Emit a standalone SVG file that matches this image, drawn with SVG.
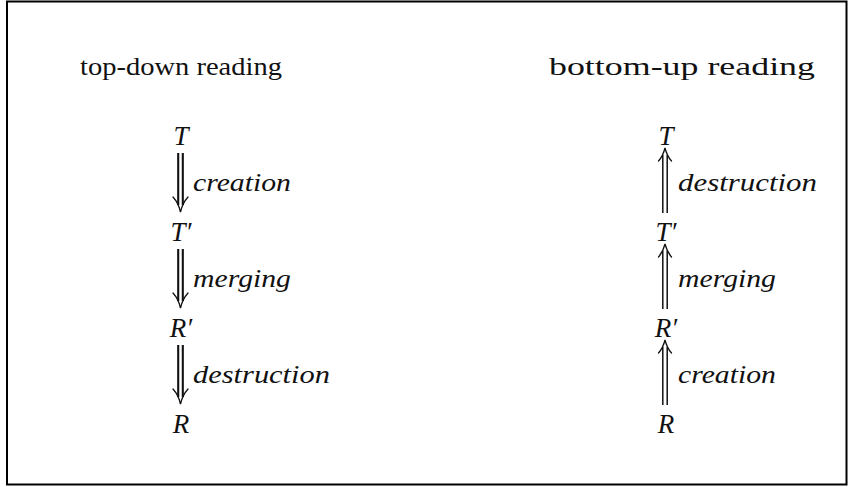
<svg xmlns="http://www.w3.org/2000/svg" xmlns:xlink="http://www.w3.org/1999/xlink" width="848" height="487" viewBox="0 0 848 487">
<style>
.frame{fill:#fff;stroke:#000;stroke-width:2}
.tx{font-family:"Times New Roman","Liberation Serif",Times,serif;fill:#111}
.hd{font-size:26px}
.nd{font-style:italic;font-size:27px;text-anchor:middle}
.lb{font-style:italic;font-size:26px}
.dl{stroke:#111;stroke-width:2.1;fill:none}
.ul{stroke:#111;stroke-width:1.5;fill:none}
.hdw{stroke:#111;stroke-width:1.3;fill:none;stroke-linecap:round}
</style>
<defs>
<g id="down">
<line class="dl" x1="-2.3" y1="0" x2="-2.3" y2="52"/>
<line class="dl" x1="2.3" y1="0" x2="2.3" y2="52"/>
<path class="hdw" d="M-7.5,44 Q-2,50 0,59 Q2,50 7.5,44"/>
</g>
<g id="up">
<line class="ul" x1="-2.2" y1="7" x2="-2.2" y2="65"/>
<line class="ul" x1="2.2" y1="7" x2="2.2" y2="65"/>
<path class="hdw" d="M-6.5,13 Q-2,8 0,0 Q2,8 6.5,13"/>
</g>
</defs>
<rect class="frame" x="7" y="1.5" width="839.5" height="483"/>
<g class="tx">
<g id="headings">
<text class="hd" x="80" y="75" textLength="202" lengthAdjust="spacingAndGlyphs">top-down reading</text>
<text class="hd" x="549" y="75" textLength="266" lengthAdjust="spacingAndGlyphs">bottom-up reading</text>
</g>
<g id="left-T"><text class="nd" x="181" y="145">T</text></g>
<g id="left-T1"><text class="nd" x="181" y="241">T′</text></g>
<g id="left-R1"><text class="nd" x="181" y="337">R′</text></g>
<g id="left-R"><text class="nd" x="181" y="433">R</text></g>
<g id="right-T"><text class="nd" x="666" y="145">T</text></g>
<g id="right-T1"><text class="nd" x="666" y="241">T′</text></g>
<g id="right-R1"><text class="nd" x="666" y="337">R′</text></g>
<g id="right-R"><text class="nd" x="666" y="433">R</text></g>
</g>
<g id="connectors">
<use xlink:href="#down" x="180.5" y="153"/>
<use xlink:href="#down" x="180.5" y="249"/>
<use xlink:href="#down" x="180.5" y="345"/>
<use xlink:href="#up" x="665" y="148"/>
<use xlink:href="#up" x="665" y="244"/>
<use xlink:href="#up" x="665" y="340"/>
<g class="tx">
<text class="lb" x="193" y="191" textLength="98" lengthAdjust="spacingAndGlyphs">creation</text>
<text class="lb" x="193" y="287" textLength="98" lengthAdjust="spacingAndGlyphs">merging</text>
<text class="lb" x="193" y="383" textLength="137" lengthAdjust="spacingAndGlyphs">destruction</text>
<text class="lb" x="678" y="191" textLength="139" lengthAdjust="spacingAndGlyphs">destruction</text>
<text class="lb" x="678" y="287" textLength="98" lengthAdjust="spacingAndGlyphs">merging</text>
<text class="lb" x="678" y="383" textLength="98" lengthAdjust="spacingAndGlyphs">creation</text>
</g>
</g>
</svg>
